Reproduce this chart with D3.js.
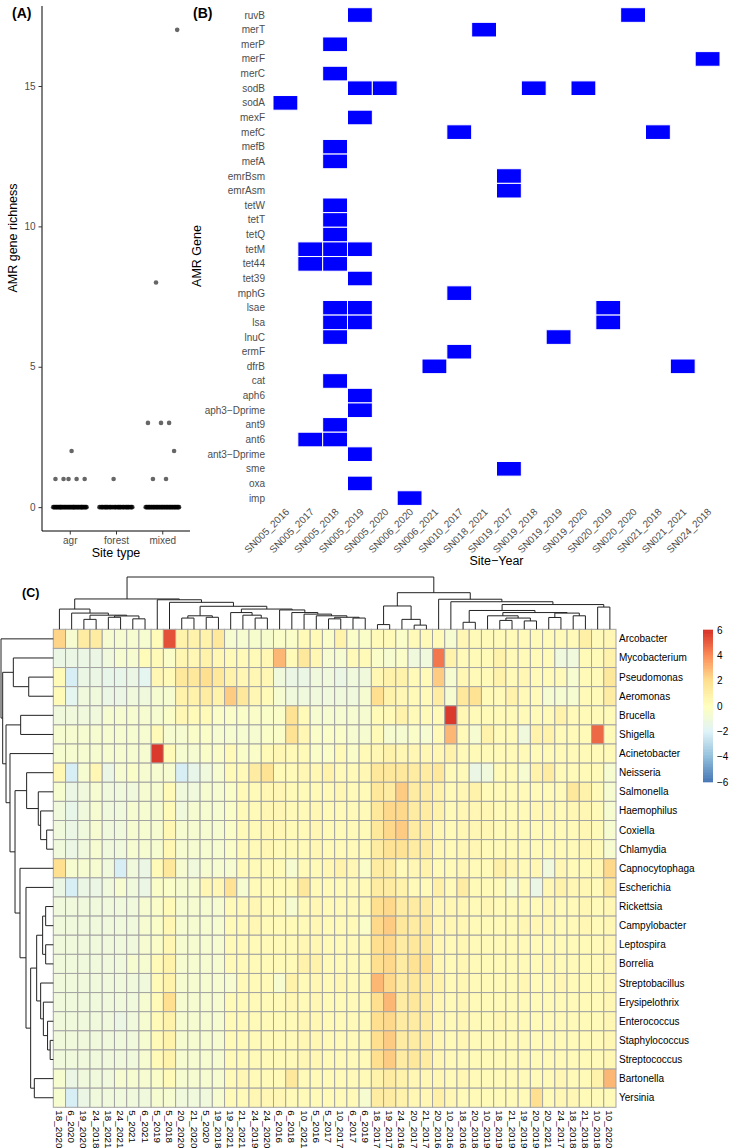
<!DOCTYPE html>
<html>
<head>
<meta charset="utf-8">
<script src="https://cdn.jsdelivr.net/npm/d3@7"></script>
<style>
  body { margin: 0; background: #fff; }
  svg { display: block; font-family: "Liberation Sans", Arial, sans-serif; }
</style>
</head>
<body>
<div id="chartContainer"></div>
<script>
// ---------- Panel A: AMR gene richness per site type ----------
const siteTypes = ["agr", "forest", "mixed"];
const agrValues = [0, 1, 2];
const agrCounts = [58, 5, 1];
const forestValues = [0, 1];
const forestCounts = [45, 1];
const mixedValues = [0, 1, 2, 3, 8, 17];
const mixedCounts = [55, 2, 1, 3, 1, 1];
const richnessTicks = [0, 5, 10, 15];

// ---------- Panel B: AMR gene presence by site-year ----------
const siteYears = ["SN005_2016", "SN005_2017", "SN005_2018", "SN005_2019", "SN005_2020",
  "SN006_2020", "SN006_2021", "SN010_2017", "SN018_2021", "SN019_2017", "SN019_2018",
  "SN019_2019", "SN019_2020", "SN020_2019", "SN020_2020", "SN021_2018", "SN021_2021", "SN024_2018"];
const amrGenes = ["ruvB", "merT", "merP", "merF", "merC", "sodB", "sodA", "mexF", "mefC", "mefB",
  "mefA", "emrBsm", "emrAsm", "tetW", "tetT", "tetQ", "tetM", "tet44", "tet39", "mphG", "lsae",
  "lsa", "lnuC", "ermF", "dfrB", "cat", "aph6", "aph3\u2212Dprime", "ant9", "ant6",
  "ant3\u2212Dprime", "sme", "oxa", "imp"];
// site-years where each gene (same order as amrGenes) was found
const geneSites = [
  ["SN005_2019", "SN020_2020"], ["SN018_2021"], ["SN005_2018"], ["SN024_2018"], ["SN005_2018"],
  ["SN005_2019", "SN005_2020", "SN019_2018", "SN019_2020"], ["SN005_2016"], ["SN005_2019"],
  ["SN010_2017", "SN021_2018"], ["SN005_2018"], ["SN005_2018"], ["SN019_2017"], ["SN019_2017"],
  ["SN005_2018"], ["SN005_2018"], ["SN005_2018"], ["SN005_2017", "SN005_2018", "SN005_2019"],
  ["SN005_2017", "SN005_2018"], ["SN005_2019"], ["SN010_2017"],
  ["SN005_2018", "SN005_2019", "SN020_2019"], ["SN005_2018", "SN005_2019", "SN020_2019"],
  ["SN005_2018", "SN019_2019"], ["SN010_2017"], ["SN006_2021", "SN021_2021"], ["SN005_2018"],
  ["SN005_2019"], ["SN005_2019"], ["SN005_2018"], ["SN005_2017", "SN005_2018"], ["SN005_2019"],
  ["SN019_2017"], ["SN005_2019"], ["SN006_2020"]
];

// ---------- Panel C: pathogen heatmap ----------
const colLabels = ["18_2020", "6_2020", "19_2020", "24_2018", "18_2021", "24_2021", "5_2021", "6_2021",
  "5_2019", "5_2018", "20_2020", "21_2020", "5_2020", "19_2018", "19_2021", "21_2021", "24_2019",
  "24_2020", "6_2016", "6_2018", "10_2021", "5_2016", "5_2017", "10_2017", "6_2017", "6_2019",
  "18_2017", "19_2017", "24_2016", "20_2017", "21_2017", "20_2016", "10_2016", "18_2016", "20_2018",
  "10_2019", "18_2019", "21_2019", "19_2019", "20_2019", "20_2021", "24_2017", "18_2018", "21_2018",
  "10_2018", "10_2020"];
const rowLabels = ["Arcobacter", "Mycobacterium", "Pseudomonas", "Aeromonas", "Brucella", "Shigella",
  "Acinetobacter", "Neisseria", "Salmonella", "Haemophilus", "Coxiella", "Chlamydia", "Capnocytophaga",
  "Escherichia", "Rickettsia", "Campylobacter", "Leptospira", "Borrelia", "Streptobacillus",
  "Erysipelothrix", "Enterococcus", "Staphylococcus", "Streptococcus", "Bartonella", "Yersinia"];
const heatValues = [
  [2.3,-0.6,1.2,1.2,-0.6,-0.6,-0.6,-0.6,0.2,5.3, 0.8,0.8,0.8,1.5,-0.6,-0.6,-0.5,-0.5,-0.3,-0.3, 0.3,0.3,-0.3,0.8,-0.3, -0.3,0.3,0.3,-0.3,0.3,0.3,0.3,-0.6,0.5,0.3, 0.3,0.3,0.3,0.3,0.3,0.3,0.3,0.3,1.0,0.3,0.5],
  [-1.3,-1.3,-1.3,-1.3,-1.0,-0.6,-0.6,0.2,0.3,-0.3, 0.6,0.5,0.8,0.5,0.3,0.3,0.3,0.5,3.0,0.3, 1.5,0.5,-0.6,-0.6,0.3, 0.3,-0.3,-0.6,-0.3,-1.0,-1.0,4.5,0.8,0.3,0.3, 0.3,0.8,0.3,0.3,0.3,0.3,-1.0,-1.0,0.3,0.3,0.8],
  [0.3,-2.2,-1.3,-1.3,-1.5,-1.5,-1.3,-1.7,0.5,0.3, 1.5,1.5,2.0,1.5,0.8,0.5,0.5,0.5,-1.0,-1.3, -1.3,-1.0,-1.0,-1.3,-1.0, -1.0,0.5,0.8,0.8,0.3,0.3,2.5,-0.6,0.5,0.3, 0.3,0.8,0.3,0.5,0.3,0.3,0.3,-0.6,0.3,0.3,1.5],
  [0.3,-1.7,-1.0,-1.0,-1.3,-1.3,-1.0,-1.0,-0.6,-0.6, 0.8,0.8,1.2,0.8,2.5,1.5,0.5,0.3,-0.6,-1.0, -1.0,-1.0,-1.0,-1.0,-1.0, -0.6,2.0,0.8,0.5,0.3,0.3,1.2,-0.6,1.5,1.8, 0.3,0.3,0.8,0.3,0.3,-0.6,-0.6,-0.6,0.3,0.3,1.2],
  [-1.0,-1.0,-1.0,-1.0,-0.6,-0.6,-0.6,-0.6,-0.6,-0.3, 0.5,0.3,0.3,-0.3,-0.3,-0.3,-0.3,-0.3,-0.3,1.8, 0.3,-0.6,-0.6,-0.6,-0.6, -0.6,0.3,0.3,0.8,0.3,0.3,0.3,5.8,0.5,0.3, 0.3,0.3,0.3,0.3,0.3,0.3,0.8,0.3,0.3,0.3,0.3],
  [-0.6,-0.6,-0.6,-0.6,-0.6,-0.6,-0.6,-0.6,0.3,-0.6, -0.6,-0.3,-0.3,-0.6,-0.6,-0.6,-0.6,-0.3,-0.3,1.8, 0.5,-0.3,-0.3,-0.3,-0.6, -0.6,0.3,-0.6,-0.6,-0.3,-0.6,0.3,3.0,0.3,-0.6, 0.8,0.3,0.3,-1.0,0.8,0.8,0.3,0.3,0.3,4.8,0.3],
  [-0.6,-0.6,-0.6,-0.6,-0.6,-0.6,-0.6,-0.6,5.8,0.3, -0.6,-0.6,-0.3,-0.3,0.3,-0.3,-0.3,0.3,0.5,0.3, 0.3,-0.3,-0.3,0.3,-0.3, 0.3,0.5,0.8,0.5,0.5,0.5,0.5,0.8,0.3,0.3, 0.3,0.3,0.3,0.3,0.3,0.3,0.3,0.3,0.3,0.3,0.3],
  [0.5,-2.2,-0.6,0.5,-1.3,-0.6,-0.3,-0.6,-0.6,-0.6, -2.2,-1.5,-1.0,-0.6,0.3,0.3,1.2,1.8,0.3,0.3, 0.5,0.5,0.8,0.3,0.3, 0.5,1.5,1.5,1.5,1.2,1.2,1.5,0.3,0.3,-1.3, -1.0,0.3,0.3,-0.6,0.8,1.2,0.3,0.3,0.3,0.3,-0.6],
  [-0.6,-1.3,-1.0,-0.6,-1.0,-1.0,-1.0,-0.6,-0.6,0.3, -1.0,-1.0,-0.6,-0.6,-0.3,0.3,0.3,0.5,0.5,0.3, 0.3,0.3,0.3,0.5,0.3, 0.3,1.5,1.2,2.5,1.2,1.2,0.8,0.3,0.5,0.8, 0.3,0.3,0.3,0.3,0.3,0.3,0.3,1.5,0.8,0.3,-0.6],
  [-1.0,-1.5,-1.0,-0.6,-1.0,-1.0,-0.6,-0.6,-0.6,0.3, -1.0,-0.6,-0.6,-0.6,-0.3,0.3,0.3,0.5,0.5,0.3, 0.3,0.5,0.3,0.3,0.3, 0.3,1.5,2.2,2.2,1.2,1.2,0.8,0.3,0.5,0.5, 0.5,0.3,0.3,0.3,0.5,0.5,0.3,0.5,0.5,0.3,-0.6],
  [-1.0,-1.3,-1.0,-0.6,-1.0,-1.0,-0.6,-0.6,-0.6,0.5, -0.6,-0.6,-0.6,-0.6,-0.3,0.3,0.3,0.5,0.5,0.3, 0.3,0.5,0.3,0.3,0.3, 0.3,1.5,2.2,2.5,1.2,1.2,0.5,0.3,0.5,0.5, 0.5,0.3,0.3,0.3,0.3,0.3,0.3,0.3,0.5,0.3,-0.6],
  [-1.0,-1.3,-1.0,-0.6,-1.0,-1.0,-0.6,-0.6,-0.6,0.5, -0.6,-0.6,-0.6,-0.6,-0.3,0.3,0.3,0.5,0.3,0.3, 0.3,0.5,0.3,0.3,0.3, 0.3,1.2,1.8,1.8,1.2,1.2,0.5,0.3,0.5,0.5, 0.3,0.3,0.3,0.3,0.3,0.3,0.3,0.3,0.5,0.3,-0.6],
  [2.0,-0.6,-0.6,-0.6,-1.0,-2.2,-1.0,-1.3,0.3,1.5, -0.6,-1.0,-0.6,-0.6,-0.6,0.3,0.3,0.3,0.3,-0.6, 0.3,0.3,0.5,0.8,0.5, -0.3,1.2,1.2,0.3,0.5,0.8,0.3,0.3,0.5,0.3, 0.3,1.0,0.5,0.3,0.5,-1.0,0.5,0.3,0.3,0.5,2.2],
  [-1.3,-2.2,-1.3,-1.3,-1.0,-0.6,-1.0,-1.3,-0.3,-0.3, -0.6,-0.6,0.5,0.5,1.8,-0.6,0.3,0.3,0.3,0.3, 1.5,0.3,0.3,0.3,0.3, 0.3,1.2,1.2,0.8,0.3,0.3,1.0,0.3,1.2,0.3, 0.3,0.3,-0.6,0.3,-1.3,0.5,0.8,0.5,0.5,0.3,1.5],
  [-1.0,-1.0,-1.0,-1.0,-1.0,-1.0,-1.0,-0.6,-0.3,0.3, -0.6,-0.6,-0.6,-0.6,0.3,0.3,0.5,0.3,0.3,-0.6, 0.3,0.5,0.3,0.3,0.3, 0.3,2.0,2.2,1.2,1.2,1.2,0.5,0.5,0.5,0.3, 0.5,0.3,0.3,0.3,0.3,0.5,0.3,0.3,0.5,0.3,0.5],
  [-1.0,-1.0,-1.0,-1.0,-1.0,-1.0,-1.0,-0.6,-0.3,0.5, -0.6,-0.6,-0.6,-0.6,0.3,0.3,0.5,0.3,0.3,0.3, 0.3,0.5,0.3,0.3,0.3, -0.3,2.2,2.5,1.5,1.2,1.5,0.5,0.5,0.5,0.3, 0.3,0.3,0.3,0.5,0.5,0.5,0.3,0.3,0.5,0.3,0.5],
  [-1.0,-1.0,-1.0,-1.0,-1.0,-1.0,-1.0,-0.6,-0.3,0.5, -0.6,-0.6,-0.6,-0.6,0.3,0.3,0.3,0.3,0.3,0.3, 0.5,0.5,0.3,0.3,0.3, 0.3,2.0,2.2,1.2,1.5,1.5,0.5,0.3,0.5,0.3, 0.3,0.3,0.3,0.3,0.3,0.3,0.3,0.3,0.3,0.3,0.5],
  [-1.0,-1.0,-1.0,-1.0,-1.0,-1.0,-0.6,-0.6,0.3,0.8, -0.6,-0.6,-0.6,-0.6,0.3,0.3,0.3,0.3,0.3,0.3, 0.8,0.8,0.3,0.3,0.3, 0.3,2.0,2.2,1.2,1.8,2.0,0.5,0.3,0.5,0.3, 0.3,0.3,0.3,0.3,0.3,0.5,0.3,0.3,0.3,0.3,0.5],
  [-1.0,-1.0,-1.0,-1.0,-1.0,-1.0,-1.0,-1.0,0.3,0.8, -0.6,-0.6,-0.6,-0.6,-0.6,0.3,0.3,0.3,-0.6,0.8, 0.3,0.5,0.3,0.5,0.3, 0.3,3.0,2.2,1.2,1.5,1.2,0.8,0.3,0.5,0.3, 0.3,0.3,0.3,0.5,0.3,0.3,0.5,0.3,0.3,0.3,0.5],
  [-1.0,-1.0,-1.0,-1.0,-1.0,-1.0,-1.0,-0.6,0.3,2.0, -0.6,-0.6,-0.6,-0.6,0.3,0.3,0.3,0.3,0.3,0.5, 0.3,0.5,0.3,0.3,0.3, 0.3,2.0,3.0,1.2,1.5,1.2,0.5,0.3,0.5,0.3, 0.3,0.3,0.3,0.3,0.3,0.3,0.3,0.3,0.3,0.3,0.5],
  [-1.0,-1.0,-1.0,-1.0,-1.0,-1.3,-1.0,-0.6,0.3,0.8, -0.6,-0.6,-0.6,-0.6,0.3,0.3,0.3,0.3,0.3,0.3, 0.5,0.5,0.3,0.3,0.3, 0.3,2.0,2.2,1.2,1.2,1.2,0.5,0.3,0.5,0.3, 0.3,0.5,0.3,0.3,0.3,0.3,0.3,0.3,0.3,0.3,0.5],
  [-1.0,-1.0,-1.0,-1.0,-1.0,-1.0,-1.0,-0.6,0.3,0.8, -0.6,-0.6,-0.6,-0.6,0.3,0.3,0.3,0.3,0.3,0.3, 0.5,0.5,0.3,0.3,0.3, 0.3,2.0,2.5,1.2,1.2,1.2,0.5,0.3,0.5,0.3, 0.3,0.3,0.3,0.3,0.3,0.3,0.3,0.3,0.3,0.3,0.5],
  [-1.0,-1.0,-1.0,-1.0,-1.0,-1.0,-1.0,-0.6,0.3,0.8, -0.6,-0.6,-0.6,-0.6,0.3,0.3,0.3,0.3,0.3,0.3, 0.5,0.5,0.3,0.3,0.3, 0.3,2.0,2.5,1.2,1.5,1.2,0.5,0.3,0.3,0.3, 0.3,0.3,0.3,0.3,0.3,0.3,0.3,0.3,0.3,0.3,0.5],
  [-0.6,-1.3,-1.0,-1.0,-1.0,-0.6,-0.6,-0.6,-0.3,0.3, -0.6,-0.6,-0.6,-0.6,0.3,0.5,0.3,0.3,0.3,1.5, 0.3,0.3,0.3,0.3,0.3, 0.3,0.8,1.2,0.8,0.5,0.5,0.5,0.3,0.5,0.3, 0.3,0.3,0.3,0.3,0.3,0.3,0.5,0.3,0.3,0.8,3.0],
  [-0.6,-2.2,-1.3,-1.0,-1.0,-1.0,-1.0,-1.0,-0.6,-0.6, -1.0,-1.0,-1.0,-0.6,0.3,0.3,0.5,0.5,0.5,0.3, 0.3,0.3,0.3,0.3,0.3, -0.6,1.2,1.2,0.8,0.5,0.5,1.0,0.5,0.3,0.3, 0.3,0.3,0.3,0.3,2.0,0.3,0.5,0.5,0.3,0.3,0.3]
];
const legendTicks = [-6, -4, -2, 0, 2, 4, 6];
const heatPalette = ["#4575B4", "#91BFDB", "#E0F3F8", "#FFFFBF", "#FEE090", "#FC8D59", "#D73027"];

// cluster trees: [mergeHeight, left, right], leaves are column / row indexes
const colTree =
  [1.0,
    [0.58,
      [0.387, 0, [0.31, 1, [0.27, [0.19, 2, 3], [0.255, [0.23, 4, 5], [0.2, 6, 7]]]]],
      [0.565, 8, [0.516, 9, [0.44,
        [0.258, [0.215, 10, 11], [0.23, 12, 13]],
        [0.387,
          [0.32, 14, [0.27, 15, [0.215, 16, 17]]],
          [0.37, 18, [0.32, 19, [0.29, 20, [0.258, 21, [0.23, [0.2, 22, 23], [0.215, 24, 25]]]]]]]]]]],
    [0.70,
      [0.446, [0.09, 26, 27], [0.19, 28, [0.08, 29, 30]]],
      [0.575, 31, [0.527, 32, [0.473,
        [0.36, [0.134, 33, 34], [0.32,
          [0.258, 35, [0.215, [0.17, 36, 37], [0.16, 38, 39]]],
          [0.31, [0.226, 40, 41], [0.258, 42, 43]]]],
        [0.425, 44, 45]]]]]];
const rowTree =
  [1.0, 0,
    [0.968,
      [0.764, 1, [0.47, 2, 3]],
      [0.904,
        [0.624, 4, 5],
        [0.828, 6,
          [0.732,
            [0.51, 7, [0.287, 8, [0.242, 9, [0.127, 10, 11]]]],
            [0.637, 12, [0.522, 13, [0.433,
              [0.318,
                [0.204, [0.146, 14, 15], [0.146, 16, 17]],
                [0.242, 18, [0.19, 19, [0.11, 20, [0.06, 21, 22]]]]],
              [0.363, 23, 24]]]]]]]]];

function pageLoaded() {
  const w = 730;
  const h = 1148;
  const svg = d3.select("#chartContainer").append("svg").attr("width", w).attr("height", h);

  drawPanelA(svg);
  drawPanelB(svg);
  drawPanelC(svg);

  // panel letters
  svg.selectAll("text.tag")
    .data([["(A)", 12, 18, 14], ["(B)", 193, 18, 14], ["(C)", 22, 597, 12.5]])
    .enter()
    .append("text")
    .attr("class", "tag")
    .attr("x", (d) => d[1])
    .attr("y", (d) => d[2])
    .attr("font-size", (d) => d[3] + "px")
    .attr("font-weight", "bold")
    .text((d) => d[0]);
}

function drawPanelA(svg) {
  const box = { left: 42, right: 190, top: 6, bottom: 531 };
  const g = svg.append("g");

  const x = d3.scalePoint().domain(siteTypes).range([box.left, box.right]).padding(0.6);
  const y = d3.scaleLinear().domain([-0.85, 17.85]).range([box.bottom, box.top]);

  // expand value/count pairs into points, spread deterministically across the jitter width
  const groups = [[agrValues, agrCounts], [forestValues, forestCounts], [mixedValues, mixedCounts]];
  const points = [];
  groups.forEach(([vals, counts], gi) => {
    let k = 0;
    vals.forEach((v, vi) => {
      for (let j = 0; j < counts[vi]; j++) {
        const off = ((((k + 1) * 0.6180339887) % 1) - 0.5) * 0.74;
        points.push({ type: siteTypes[gi], value: v, off: off });
        k++;
      }
    });
  });

  const yAxis = d3.axisLeft(y).tickValues(richnessTicks).tickSize(3.5).tickPadding(3);
  const yG = g.append("g").attr("transform", `translate(${box.left},0)`).call(yAxis);
  yG.select(".domain").attr("d", `M0,${box.top}V${box.bottom}`).attr("stroke", "#000").attr("stroke-width", 1);

  const xAxis = d3.axisBottom(x).tickSize(3.5).tickPadding(2);
  const xG = g.append("g").attr("transform", `translate(0,${box.bottom})`).call(xAxis);
  xG.select(".domain").attr("d", `M${box.left},0H${box.right}`).attr("stroke", "#000").attr("stroke-width", 1);

  [yG, xG].forEach((a) => {
    a.selectAll(".tick line").attr("stroke", "#333");
    a.selectAll(".tick text").attr("fill", "#4d4d4d").attr("font-size", "10px")
      .attr("font-family", "Liberation Sans, Arial, sans-serif");
  });

  g.append("g")
    .selectAll("circle")
    .data(points)
    .enter()
    .append("circle")
    .attr("cx", (d) => x(d.type) + d.off * x.step())
    .attr("cy", (d) => y(d.value))
    .attr("r", 2.3)
    .attr("fill", "#000")
    .attr("fill-opacity", 0.6);

  g.append("text")
    .attr("x", (box.left + box.right) / 2)
    .attr("y", 557)
    .attr("text-anchor", "middle")
    .attr("font-size", "12.5px")
    .text("Site type");

  g.append("text")
    .attr("transform", `translate(17,238) rotate(-90)`)
    .attr("text-anchor", "middle")
    .attr("font-size", "12.5px")
    .text("AMR gene richness");
}

function drawPanelB(svg) {
  const g = svg.append("g");
  const x = d3.scaleBand().domain(siteYears).range([273, 720]);
  const y = d3.scaleBand().domain(amrGenes).range([7.7, 505.4]);

  const tiles = [];
  amrGenes.forEach((gene, i) => geneSites[i].forEach((s) => tiles.push({ gene: gene, site: s })));

  g.selectAll("rect")
    .data(tiles)
    .enter()
    .append("rect")
    .attr("x", (d) => x(d.site))
    .attr("y", (d) => y(d.gene))
    .attr("width", x.bandwidth())
    .attr("height", y.bandwidth())
    .attr("fill", "#0000ff")
    .attr("stroke", "#fff")
    .attr("stroke-width", 1);

  g.append("g")
    .selectAll("text")
    .data(amrGenes)
    .enter()
    .append("text")
    .attr("x", 265)
    .attr("y", (d) => y(d) + y.bandwidth() / 2)
    .attr("dy", "0.35em")
    .attr("text-anchor", "end")
    .attr("fill", "#4d4d4d")
    .attr("font-size", "10px")
    .text((d) => d);

  g.append("g")
    .selectAll("text")
    .data(siteYears)
    .enter()
    .append("text")
    .attr("transform", (d) => `translate(${x(d) + x.bandwidth() / 2 + 2},${510}) rotate(-45)`)
    .attr("dy", "0.35em")
    .attr("text-anchor", "end")
    .attr("fill", "#4d4d4d")
    .attr("font-size", "10px")
    .text((d) => d);

  g.append("text")
    .attr("x", (273 + 720) / 2)
    .attr("y", 565)
    .attr("text-anchor", "middle")
    .attr("font-size", "12.5px")
    .text("Site\u2212Year");

  g.append("text")
    .attr("transform", `translate(201,256) rotate(-90)`)
    .attr("text-anchor", "middle")
    .attr("font-size", "12.5px")
    .text("AMR Gene");
}

function buildTree(t) {
  if (Array.isArray(t)) return { h: t[0], children: [buildTree(t[1]), buildTree(t[2])] };
  return { h: 0, leaf: t };
}

// draws an hclust-style dendrogram; alongX = leaves laid out along x
function drawDendro(g, tree, leafPos, hScale, alongX) {
  const root = d3.hierarchy(buildTree(tree));
  root.eachAfter((n) => {
    n.pos = n.children ? d3.mean(n.children, (c) => c.pos) : leafPos(n.data.leaf);
  });
  const pt = (pos, hv) => (alongX ? [pos, hScale(hv)] : [hScale(hv), pos]);
  const line = d3.line();
  g.selectAll("path")
    .data(root.descendants().filter((n) => n.children))
    .enter()
    .append("path")
    .attr("d", (n) => {
      const [a, b] = n.children;
      return line([pt(a.pos, a.data.h), pt(a.pos, n.data.h), pt(b.pos, n.data.h), pt(b.pos, b.data.h)]);
    })
    .attr("fill", "none")
    .attr("stroke", "#222")
    .attr("stroke-width", 1);
}

function drawPanelC(svg) {
  const hm = { left: 53.3, right: 616, top: 629.3, bottom: 1107.3 };
  const g = svg.append("g");
  const x = d3.scaleBand().domain(colLabels).range([hm.left, hm.right]);
  const y = d3.scaleBand().domain(rowLabels).range([hm.top, hm.bottom]);
  const color = d3.scaleLinear().domain(legendTicks).range(heatPalette).clamp(true);

  const cells = [];
  rowLabels.forEach((r, i) => colLabels.forEach((c, j) => cells.push({ row: r, col: c, v: heatValues[i][j] })));

  g.append("g")
    .selectAll("rect")
    .data(cells)
    .enter()
    .append("rect")
    .attr("x", (d) => x(d.col))
    .attr("y", (d) => y(d.row))
    .attr("width", x.bandwidth())
    .attr("height", y.bandwidth())
    .attr("fill", (d) => color(d.v))
    .attr("stroke", "#a3a3a3")
    .attr("stroke-width", 1);

  // row labels
  g.append("g")
    .selectAll("text")
    .data(rowLabels)
    .enter()
    .append("text")
    .attr("x", hm.right + 3)
    .attr("y", (d) => y(d) + y.bandwidth() / 2)
    .attr("dy", "0.35em")
    .attr("font-size", "10px")
    .text((d) => d);

  // column labels, rotated
  g.append("g")
    .selectAll("text")
    .data(colLabels)
    .enter()
    .append("text")
    .attr("transform", (d) => `translate(${x(d) + x.bandwidth() / 2},${hm.bottom + 3}) rotate(90)`)
    .attr("dy", "0.35em")
    .attr("font-size", "9.8px")
    .text((d) => d);

  // dendrograms
  drawDendro(g.append("g"), colTree,
    (i) => x(colLabels[i]) + x.bandwidth() / 2,
    d3.scaleLinear().domain([0, 1]).range([hm.top, 577]), true);
  drawDendro(g.append("g"), rowTree,
    (i) => y(rowLabels[i]) + y.bandwidth() / 2,
    d3.scaleLinear().domain([0, 1]).range([hm.left, 1]), false);

  // colour legend
  const ly = d3.scaleLinear().domain([-6, 6]).range([782, 630]);
  const steps = d3.range(100).map((i) => -6 + (12 * (i + 0.5)) / 100);
  const stepH = (ly(-6) - ly(6)) / 100 * 1.026;
  g.append("g")
    .selectAll("rect")
    .data(steps)
    .enter()
    .append("rect")
    .attr("x", 703)
    .attr("y", (d) => ly(d) - stepH / 2 - 0.3)
    .attr("width", 10)
    .attr("height", stepH + 0.6)
    .attr("fill", (d) => color(d));
  g.append("g")
    .selectAll("text")
    .data(legendTicks)
    .enter()
    .append("text")
    .attr("x", 717)
    .attr("y", (d) => ly(d))
    .attr("dy", "0.35em")
    .attr("font-size", "10px")
    .text((d) => (d < 0 ? "\u2212" + Math.abs(d) : d));
}

window.addEventListener("load", pageLoaded);
</script>
</body>
</html>
